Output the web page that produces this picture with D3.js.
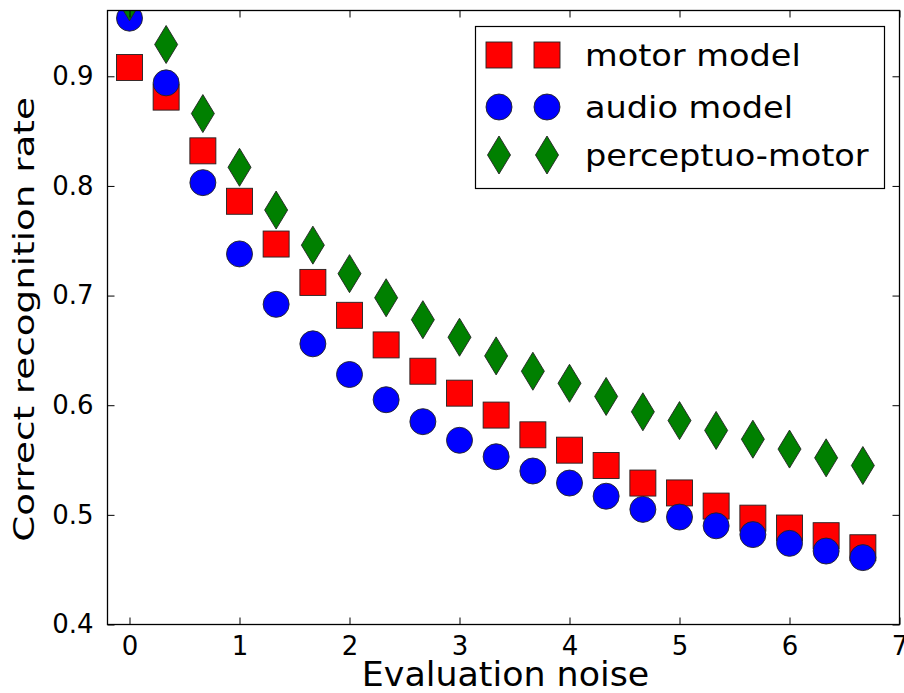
<!DOCTYPE html>
<html>
<head>
<meta charset="utf-8">
<script src="https://cdn.jsdelivr.net/npm/d3@7"></script>
<style>
  html, body { margin: 0; padding: 0; background: #fff; }
  svg { display: block; font-family: "DejaVu Sans", sans-serif; }
</style>
</head>
<body>
<svg id="chart" width="904" height="693"></svg>
<script>
// ---- data ----
const noise = [0, 0.333, 0.667, 1, 1.333, 1.667, 2, 2.333, 2.667, 3, 3.333, 3.667, 4, 4.333, 4.667, 5, 5.333, 5.667, 6, 6.333, 6.667];
const motorModel = [0.908, 0.881, 0.832, 0.786, 0.747, 0.712, 0.682, 0.655, 0.631, 0.611, 0.591, 0.573, 0.559, 0.545, 0.529, 0.520, 0.508, 0.497, 0.488, 0.481, 0.470];
const audioModel = [0.953, 0.894, 0.803, 0.738, 0.692, 0.656, 0.628, 0.605, 0.585, 0.568, 0.553, 0.540, 0.529, 0.517, 0.505, 0.498, 0.490, 0.482, 0.474, 0.467, 0.461];
const perceptuoMotor = [0.968, 0.929, 0.866, 0.817, 0.778, 0.746, 0.720, 0.698, 0.678, 0.662, 0.645, 0.631, 0.620, 0.608, 0.594, 0.586, 0.577, 0.569, 0.560, 0.552, 0.545];
const seriesNames = ["motor model", "audio model", "perceptuo-motor"];
const xTicks = [0, 1, 2, 3, 4, 5, 6, 7];
const yTicks = [0.4, 0.5, 0.6, 0.7, 0.8, 0.9];
const xLabel = "Evaluation noise";
const yLabel = "Correct recognition rate";

// ---- layout ----
const svg = d3.select("#chart");
const L = 107.5, R = 899.5, T = 10.5, B = 624.5;
const x = d3.scaleLinear().domain([-0.2, 7]).range([L, R]);
const y = d3.scaleLinear().domain([0.4, 0.96]).range([B, T]);

const series = [
  { name: seriesNames[0], values: motorModel, color: "#ff0000", shape: "square" },
  { name: seriesNames[1], values: audioModel, color: "#0000ff", shape: "circle" },
  { name: seriesNames[2], values: perceptuoMotor, color: "#008000", shape: "diamond" }
];

function drawMarker(g, shape, color) {
  if (shape === "square") {
    g.append("rect").attr("x", -13).attr("y", -13).attr("width", 26).attr("height", 26);
  } else if (shape === "circle") {
    g.append("circle").attr("r", 13);
  } else {
    g.append("path").attr("d", "M0,-19L11.5,0L0,19L-11.5,0Z");
  }
  g.selectAll("*").attr("fill", color).attr("stroke", "#222").attr("stroke-width", 0.9);
}

svg.append("defs").append("clipPath").attr("id", "plotclip")
  .append("rect").attr("x", L).attr("y", T).attr("width", R - L).attr("height", B - T);

const plot = svg.append("g").attr("clip-path", "url(#plotclip)");
series.forEach(s => {
  plot.append("g").selectAll("g.pt")
    .data(noise.map((n, i) => ({ n, v: s.values[i] })))
    .join("g").attr("class", "pt")
    .attr("transform", d => `translate(${x(d.n)},${y(d.v)})`)
    .each(function () { drawMarker(d3.select(this), s.shape, s.color); });
});

// ---- axes (ticks inside, on all four sides) ----
const tickLen = 7;
const axB = svg.append("g").attr("transform", `translate(0,${B})`)
  .call(d3.axisBottom(x).tickValues(xTicks).tickFormat(d3.format("d")).tickSizeInner(-tickLen).tickSizeOuter(0).tickPadding(12));
const axT = svg.append("g").attr("transform", `translate(0,${T})`)
  .call(d3.axisTop(x).tickValues(xTicks).tickFormat("").tickSizeInner(-tickLen).tickSizeOuter(0));
const axLft = svg.append("g").attr("transform", `translate(${L},0)`)
  .call(d3.axisLeft(y).tickValues(yTicks).tickFormat(d3.format(".1f")).tickSizeInner(-tickLen).tickSizeOuter(0).tickPadding(14));
const axRt = svg.append("g").attr("transform", `translate(${R},0)`)
  .call(d3.axisRight(y).tickValues(yTicks).tickFormat("").tickSizeInner(-tickLen).tickSizeOuter(0));
[axB, axT, axLft, axRt].forEach(a => {
  a.select(".domain").remove();
  a.selectAll("line").attr("stroke", "#000").attr("stroke-width", 1);
  a.selectAll("text").attr("fill", "#000").style("font-size", "26px").style("font-family", "DejaVu Sans, sans-serif");
});
axB.selectAll("text").attr("dy", "0.71em");

svg.append("rect").attr("x", L).attr("y", T).attr("width", R - L).attr("height", B - T)
  .attr("fill", "none").attr("stroke", "#000").attr("stroke-width", 1.3);

// ---- axis labels ----
svg.append("text").attr("transform", `translate(${(L + R) / 2 + 2},686) scale(1.04,1)`)
  .attr("text-anchor", "middle").style("font-size", "33.5px").text(xLabel);
svg.append("text").attr("transform", `translate(34,${(T + B) / 2 + 2}) rotate(-90) scale(1.33,1)`)
  .attr("text-anchor", "middle").style("font-size", "28px").text(yLabel);

// ---- legend ----
const lg = svg.append("g");
lg.append("rect").attr("x", 475.5).attr("y", 26.5).attr("width", 409).attr("height", 162)
  .attr("fill", "#fff").attr("stroke", "#000").attr("stroke-width", 1.2);
const rowY = [55, 107, 155];
series.forEach((s, i) => {
  [499, 547].forEach(mx => {
    drawMarker(lg.append("g").attr("transform", `translate(${mx},${rowY[i]})`), s.shape, s.color);
  });
  lg.append("text").attr("transform", `translate(585,${rowY[i]}) scale(1.1,1)`).attr("dy", "0.36em")
    .style("font-size", "30.5px").text(s.name);
});
</script>
</body>
</html>
